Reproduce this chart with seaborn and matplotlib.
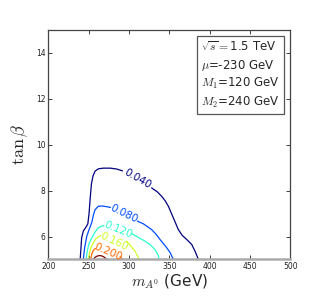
import numpy as np
import pandas as pd
import matplotlib
matplotlib.use("Agg")
import matplotlib.pyplot as plt
from matplotlib.lines import Line2D
import seaborn as sns

# contour levels
levels = [0.04, 0.08, 0.12, 0.16, 0.20, 0.24]
label_text = ["0.040", "0.080", "0.120", "0.160", "0.200", None]

# contour paths (mA, tanb); each level split at its label
c040_a_m = [239.5, 240.5, 241.3, 243.5, 246.5, 249.0, 250.5, 252.0, 253.5, 255.5, 258.0, 262.0, 268.0, 277.0, 285.0, 292.0]
c040_a_t = [5.00, 5.50, 5.94, 6.25, 6.40, 6.55, 7.00, 7.70, 8.30, 8.65, 8.85, 8.95, 8.98, 8.98, 8.94, 8.86]
c040_b_m = [328.0, 335.0, 340.6, 345.0, 348.8, 355.0, 361.2, 366.0, 371.6, 377.8, 382.0, 386.0]
c040_b_t = [8.12, 7.95, 7.75, 7.55, 7.32, 6.81, 6.30, 6.05, 5.87, 5.65, 5.35, 5.00]

c080_a_m = [243.4, 245.0, 247.6, 250.5, 253.8, 256.0, 258.0, 262.0, 267.0, 272.4, 277.0]
c080_a_t = [5.00, 5.50, 6.00, 6.30, 6.60, 6.95, 7.17, 7.32, 7.33, 7.30, 7.27]
c080_b_m = [310.5, 318.0, 328.2, 334.0, 338.5, 346.8, 351.0, 355.0]
c080_b_t = [6.67, 6.55, 6.30, 6.08, 5.87, 5.51, 5.30, 5.00]

c120_a_m = [246.7, 248.5, 250.5, 253.8, 258.0, 262.0, 266.0, 269.0]
c120_a_t = [5.00, 5.40, 5.70, 5.94, 6.20, 6.38, 6.45, 6.47]
c120_b_m = [304.0, 312.0, 319.9, 326.0, 332.3, 336.0, 337.6]
c120_b_t = [6.12, 5.95, 5.80, 5.65, 5.43, 5.20, 5.00]

c160_a_m = [249.6, 251.5, 253.5, 255.8, 259.0, 262.5, 265.0]
c160_a_t = [5.00, 5.35, 5.58, 5.73, 5.90, 6.00, 6.04]
c160_b_m = [297.0, 302.0, 307.5, 310.5, 312.8]
c160_b_t = [5.80, 5.60, 5.36, 5.15, 5.00]

c200_a_m = [252.5, 254.0, 256.0, 258.5]
c200_a_t = [5.00, 5.25, 5.40, 5.48]
c200_b_m = [289.0, 291.0, 292.5]
c200_b_t = [5.12, 5.05, 5.00]

c240_m = [256.0, 257.5, 260.0, 263.0, 266.0, 269.0, 271.0, 272.5]
c240_t = [5.00, 5.08, 5.14, 5.17, 5.16, 5.11, 5.05, 5.00]

segments = [
    (0, c040_a_m, c040_a_t), (0, c040_b_m, c040_b_t),
    (1, c080_a_m, c080_a_t), (1, c080_b_m, c080_b_t),
    (2, c120_a_m, c120_a_t), (2, c120_b_m, c120_b_t),
    (3, c160_a_m, c160_a_t), (3, c160_b_m, c160_b_t),
    (4, c200_a_m, c200_a_t), (4, c200_b_m, c200_b_t),
    (5, c240_m, c240_t),
]

# label positions (mA, tanb, rotation)
label_m = [311.0, 293.5, 287.0, 281.0, 274.0]
label_t = [8.50, 7.00, 6.30, 5.78, 5.33]
label_rot = [-30, -26, -22, -25, -23]

legend_lines = [r"$\sqrt{s}=$1.5 TeV", r"$\mu$=-230 GeV", r"$M_1$=120 GeV", r"$M_2$=240 GeV"]

sns.set_style("ticks")
plt.rcParams["font.family"] = ["DejaVu Sans"]
plt.rcParams["mathtext.fontset"] = "cm"

fig = plt.figure(figsize=(3.23, 3.06), dpi=100)
ax = fig.add_axes([0.1495, 0.152, 0.7495, 0.750])

cmap = matplotlib.colormaps["jet"]
norm = matplotlib.colors.Normalize(vmin=levels[0], vmax=levels[-1])
colors = [cmap(norm(l)) for l in levels]

for idx, m, t in segments:
    df = pd.DataFrame({"m": m, "t": t})
    sns.lineplot(data=df, x="m", y="t", sort=False, estimator=None,
                 color=colors[idx], linewidth=0.9, ax=ax)

for i in range(5):
    ax.text(label_m[i], label_t[i], label_text[i], color=colors[i], fontsize=7.5,
            rotation=label_rot[i], ha="center", va="center", rotation_mode="anchor")

ax.set_xlim(200, 500)
ax.set_ylim(5, 15)
ax.set_xticks([200, 250, 300, 350, 400, 450, 500])
ax.set_yticks([6, 8, 10, 12, 14])
ax.tick_params(direction="in", length=3, width=0.6, labelsize=5.5, pad=2,
               top=True, right=True, colors="#222222")
for s in ["left", "right", "top"]:
    ax.spines[s].set_color("#444444")
    ax.spines[s].set_linewidth(0.9)
ax.spines["bottom"].set_color("#aaaaaa")
ax.spines["bottom"].set_linewidth(1.8)

ax.set_xlabel(r"$m_{A^0}$ (GeV)", fontsize=11, labelpad=1)
ax.set_ylabel(r"$\tan\beta$", fontsize=13, labelpad=4)

handles = [Line2D([], [], linestyle="none") for _ in legend_lines]
leg = ax.legend(handles, legend_lines, loc="upper right", fontsize=8.5,
                handlelength=0, handletextpad=0, labelspacing=0.3,
                borderaxespad=0.55, borderpad=0.35, fancybox=False, framealpha=1)
leg.get_frame().set_edgecolor("#555555")
leg.get_frame().set_linewidth(0.9)

fig.savefig("out.png", dpi=100)
